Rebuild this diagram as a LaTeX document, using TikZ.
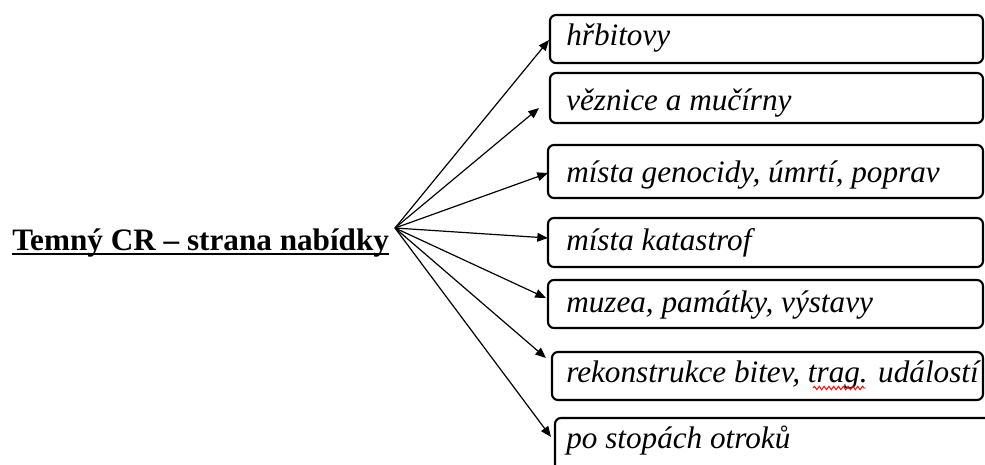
\documentclass[tikz,border=0pt]{standalone}
\usepackage{fontspec}
\setmainfont{Liberation Serif}[ItalicFont={Liberation Serif Italic},BoldFont={Liberation Serif Bold}]
\usetikzlibrary{arrows.meta,fit,decorations.pathmorphing}
\begin{document}
\begin{tikzpicture}[x=0.75pt,y=-0.75pt,
 box/.style={draw, line width=1.6pt, rounded corners=4.5pt, inner sep=0pt},
 lbl/.style={inner sep=0pt, anchor=base west, font=\fontsize{23.4}{28}\selectfont\itshape},
 ttl/.style={inner sep=0pt, anchor=base west, font=\fontsize{23.4}{28}\selectfont\bfseries},
 arr/.style={line width=0.9pt, -{Triangle[length=8pt,width=6.5pt]}},
 squig/.style={red, line width=0.7pt, decorate, decoration={snake, amplitude=1.3pt, segment length=3.6pt}}]
\clip (0,0) rectangle (985,464);
\fill[white] (0,0) rectangle (985,464);
% title
\node[ttl] (title) at (12,250) {Temný CR – strana nabídky};
\draw[line width=1.5pt] ([yshift=-2.8pt]title.base west) -- ([yshift=-2.8pt]title.base east);
\coordinate (src) at (395,228);
% boxes
\node[box, fit={(550,15) (983,63)}] (b1) {};
\node[box, fit={(550,73) (983,123)}] (b2) {};
\node[box, fit={(548,145) (983,198)}] (b3) {};
\node[box, fit={(548,218) (983,267)}] (b4) {};
\node[box, fit={(548,280) (983,328)}] (b5) {};
\node[box, fit={(552,352) (983,400)}] (b6) {};
\node[box, fit={(555,418) (1000,490)}] (b7) {};
% labels
\node[lbl] (t1) at (566,45) {hřbitovy};
\node[lbl] (t2) at (566,110) {věznice a mučírny};
\node[lbl] (t3) at (566,182) {místa genocidy, úmrtí, poprav};
\node[lbl] (t4) at (566,250) {místa katastrof};
\node[lbl] (t5) at (566,312) {muzea, památky, výstavy};
\node[lbl] (t6) at (566,382) {rekonstrukce bitev, trag. událostí};
\node[lbl] (t7) at (566,448) {po stopách otroků};
\draw[squig] (813,388) -- (866,388);
% arrow ends
\coordinate (e1) at (549,40);
\coordinate (e2) at (539,108);
\coordinate (e3) at (548,173);
\coordinate (e4) at (548,238);
\coordinate (e5) at (546,298);
\coordinate (e6) at (546,358);
\coordinate (e7) at (551,437);
\foreach \i in {1,...,7} {\draw[arr] (src) -- (e\i);}
\end{tikzpicture}
\end{document}
